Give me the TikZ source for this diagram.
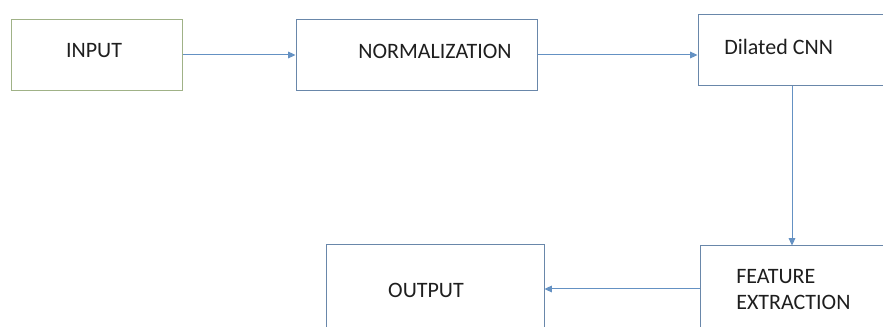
\documentclass[tikz,border=0pt]{standalone}
\usepackage{fontspec}
\setmainfont{Carlito}
\usetikzlibrary{arrows.meta}
\definecolor{boxBlue}{RGB}{105,135,170}
\definecolor{boxGreen}{RGB}{160,178,135}
\definecolor{arrowBlue}{RGB}{100,145,195}
\definecolor{textGray}{RGB}{30,30,30}

\begin{document}
\begin{tikzpicture}[x=0.75pt,y=0.75pt,
  blockbox/.style={rectangle,draw=boxBlue,line width=0.75pt,inner sep=0pt},
  blocktext/.style={text=textGray,font=\fontsize{16.5}{19.5}\selectfont,inner sep=0pt},
  flow/.style={draw=arrowBlue,line width=0.75pt,-{Triangle[length=5.5pt,width=5pt]}}]
\useasboundingbox (0,0) rectangle (883,-327);
\clip (0,0) rectangle (883,-327);
% Blocks
\node[blockbox,draw=boxGreen,minimum width=128.25pt,minimum height=53.25pt] (input) at (96.5,-55) {};
\node[blockbox,minimum width=180.75pt,minimum height=53.25pt] (norm) at (416.5,-55) {};
\node[blockbox,minimum width=141pt,minimum height=53.25pt] (cnn) at (792,-50) {};
\node[blockbox,minimum width=138pt,minimum height=64.5pt] (feat) at (792,-289) {};
\node[blockbox,minimum width=163.5pt,minimum height=66pt] (output) at (435,-289) {};
% Labels
\node[blocktext] (inputtext) at (94,-51) {INPUT};
\node[blocktext] (normtext) at (435,-51) {NORMALIZATION};
\node[blocktext,anchor=west] (cnntext) at (724,-47) {Dilated CNN};
\node[blocktext,anchor=west,align=left] (feattext) at (736,-289.5) {FEATURE\\EXTRACTION};
\node[blocktext] (outputtext) at (426,-290) {OUTPUT};
% Flow
\draw[flow] (input) -- (norm);
\draw[flow] (norm.east) -- (norm.east -| cnn.west);
\draw[flow] (cnn) -- (feat);
\draw[flow] (feat) -- (output);
\end{tikzpicture}
\end{document}
